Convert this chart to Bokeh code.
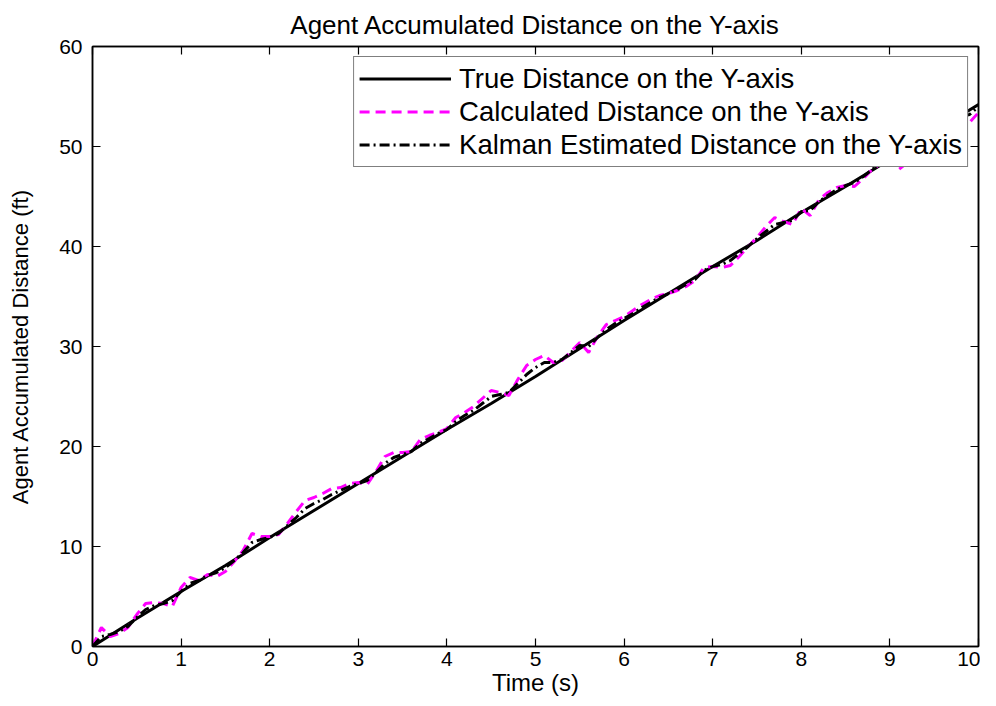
from bokeh.plotting import figure
from bokeh.models import LinearAxis, FixedTicker, Range1d, Legend, LegendItem, Title
from bokeh.embed import file_html
from bokeh.resources import INLINE

# ---- data ----
t_true = [0.0, 0.5, 1.0, 1.5, 2.0, 2.5, 3.0, 3.5, 4.0, 4.5, 5.0,
          5.5, 6.0, 6.5, 7.0, 7.5, 8.0, 8.5, 9.0, 9.5, 10.0]
true_dist = [0.0, 2.8, 5.5, 8.1, 10.9, 13.6, 16.3, 19.0, 21.7, 24.3, 27.0,
             29.8, 32.6, 35.3, 38.0, 40.6, 43.4, 46.0, 48.7, 51.5, 54.2]

t_meas = [0.0, 0.1, 0.2, 0.3, 0.4, 0.5, 0.6, 0.7, 0.8, 0.9,
          1.0, 1.1, 1.2, 1.3, 1.4, 1.5, 1.6, 1.7, 1.8, 1.9,
          2.0, 2.1, 2.2, 2.3, 2.4, 2.5, 2.6, 2.7, 2.8, 2.9,
          3.0, 3.1, 3.2, 3.3, 3.4, 3.5, 3.6, 3.7, 3.8, 3.9,
          4.0, 4.1, 4.2, 4.3, 4.4, 4.5, 4.6, 4.7, 4.8, 4.9,
          5.0, 5.1, 5.2, 5.3, 5.4, 5.5, 5.6, 5.7, 5.8, 5.9,
          6.0, 6.1, 6.2, 6.3, 6.4, 6.5, 6.6, 6.7, 6.8, 6.9,
          7.0, 7.1, 7.2, 7.3, 7.4, 7.5, 7.6, 7.7, 7.8, 7.9,
          8.0, 8.1, 8.2, 8.3, 8.4, 8.5, 8.6, 8.7, 8.8, 8.9,
          9.0, 9.1, 9.2, 9.3, 9.4, 9.5, 9.6, 9.7, 9.8, 9.9, 10.0]
calc_dist = [0.0, 1.9, 1.0, 1.3, 1.9, 3.2, 4.3, 4.4, 4.3, 4.0,
             5.9, 6.9, 6.6, 7.2, 7.0, 7.5, 8.5, 9.6, 11.3, 11.0,
             11.0, 11.2, 12.3, 13.5, 14.6, 14.9, 15.3, 15.8, 15.9, 16.3,
             16.4, 16.2, 17.5, 19.0, 19.4, 19.4, 19.5, 20.7, 21.1, 21.4,
             21.8, 22.9, 23.4, 24.0, 24.8, 25.6, 25.4, 25.1, 26.7, 28.1,
             28.7, 29.1, 28.4, 28.6, 29.5, 30.4, 29.4, 31.0, 32.2, 32.6,
             33.0, 33.6, 34.2, 34.7, 35.1, 35.3, 35.6, 36.0, 36.6, 37.9,
             38.0, 37.9, 38.1, 39.0, 40.0, 40.9, 42.0, 42.9, 42.5, 42.2,
             43.8, 43.1, 44.7, 45.4, 45.9, 46.1, 46.0, 46.8, 47.7, 48.3,
             48.9, 47.7, 48.4, 50.0, 50.6, 51.2, 51.0, 52.0, 52.8, 52.4, 53.4]
kalman_dist = [0.0, 1.0, 1.2, 1.5, 2.0, 2.9, 3.7, 4.1, 4.3, 4.6,
               5.5, 6.3, 6.6, 7.1, 7.4, 7.9, 8.6, 9.4, 10.4, 10.7,
               10.9, 11.3, 12.1, 12.9, 13.8, 14.3, 14.7, 15.2, 15.6, 16.0,
               16.3, 16.6, 17.4, 18.3, 18.9, 19.2, 19.5, 20.3, 20.8, 21.3,
               21.7, 22.5, 23.1, 23.6, 24.3, 25.0, 25.2, 25.4, 26.3, 27.2,
               27.9, 28.4, 28.4, 28.7, 29.4, 30.1, 30.0, 30.9, 31.7, 32.3,
               32.8, 33.3, 33.9, 34.4, 34.9, 35.3, 35.7, 36.2, 36.7, 37.6,
               38.0, 38.2, 38.6, 39.3, 40.0, 40.8, 41.5, 42.2, 42.4, 42.6,
               43.5, 43.6, 44.5, 45.1, 45.7, 46.1, 46.4, 47.0, 47.7, 48.3,
               48.8, 48.7, 49.3, 50.2, 50.8, 51.4, 51.7, 52.3, 53.0, 53.2, 54.0]

x_ticks = [0, 1, 2, 3, 4, 5, 6, 7, 8, 9, 10]
y_ticks = [0, 10, 20, 30, 40, 50, 60]

title_text = "Agent Accumulated Distance on the Y-axis"
x_label = "Time (s)"
y_label = "Agent Accumulated Distance (ft)"
legend_labels = ["True Distance on the Y-axis",
                 "Calculated Distance on the Y-axis",
                 "Kalman Estimated Distance on the Y-axis"]

FONT = "Liberation Sans"

p = figure(width=980, height=698, output_backend="svg", toolbar_location=None,
           x_range=Range1d(0, 10), y_range=Range1d(0, 60),
           min_border_left=92, min_border_right=2, min_border_top=46,
           min_border_bottom=52, x_axis_location=None, y_axis_location=None)
p.grid.visible = False
p.outline_line_color = "black"
p.outline_line_width = 1.5
p.background_fill_color = "white"
p.border_fill_color = "white"

p.title = Title(text=title_text, align="center", vertical_align="top",
                text_font=FONT, text_font_size="26px",
                text_font_style="normal", text_color="black",
                offset=0, standoff=10)


def style_axis(ax, labels=True):
    ax.major_tick_in = 8
    ax.major_tick_out = 0
    ax.minor_tick_in = 0
    ax.minor_tick_out = 0
    ax.axis_line_color = "black"
    ax.axis_line_width = 1.5
    ax.major_tick_line_color = "black"
    ax.major_tick_line_width = 1.2
    ax.major_label_text_font = FONT
    ax.major_label_text_font_size = "21px"
    ax.major_label_text_color = "black"
    ax.axis_label_text_font = FONT
    ax.axis_label_text_font_size = "23px"
    ax.axis_label_text_font_style = "normal"
    ax.axis_label_text_color = "black"
    if not labels:
        ax.major_label_text_font_size = "0px"
        ax.major_label_text_alpha = 0


xb = LinearAxis(ticker=FixedTicker(ticks=x_ticks), axis_label=x_label)
yl = LinearAxis(ticker=FixedTicker(ticks=y_ticks), axis_label=y_label)
xt = LinearAxis(ticker=FixedTicker(ticks=x_ticks))
yr = LinearAxis(ticker=FixedTicker(ticks=y_ticks))
for ax in (xb, yl):
    style_axis(ax)
for ax in (xt, yr):
    style_axis(ax, labels=False)
xb.major_label_standoff = 5
xb.axis_label_text_font_size = "24px"
xb.axis_label_standoff = 0
yl.major_label_standoff = 10
yl.axis_label_text_font_size = "22px"
yl.axis_label_standoff = 23

p.add_layout(xb, "below")
p.add_layout(yl, "left")
p.add_layout(xt, "above")
p.add_layout(yr, "right")

r_true = p.line(t_true, true_dist, line_color="black", line_width=3)
r_calc = p.line(t_meas, calc_dist, line_color="#ff00ff", line_width=3,
                line_dash="10 6")
r_kal = p.line(t_meas, kalman_dist, line_color="black", line_width=3,
               line_dash="10 4 2 4")

legend = Legend(items=[LegendItem(label=legend_labels[0], renderers=[r_true]),
                       LegendItem(label=legend_labels[1], renderers=[r_calc]),
                       LegendItem(label=legend_labels[2], renderers=[r_kal])],
                location="top_right")
legend.label_text_font = FONT
legend.label_text_font_size = "27.5px"
legend.label_text_color = "black"
legend.glyph_width = 92
legend.glyph_height = 33
legend.label_height = 33
legend.spacing = 0
legend.padding = 5
legend.margin = 10
legend.border_line_color = "black"
legend.border_line_width = 1.5
legend.background_fill_alpha = 1
legend.label_standoff = 8
p.add_layout(legend, "center")

open("out.html", "w").write(file_html(p, INLINE))
